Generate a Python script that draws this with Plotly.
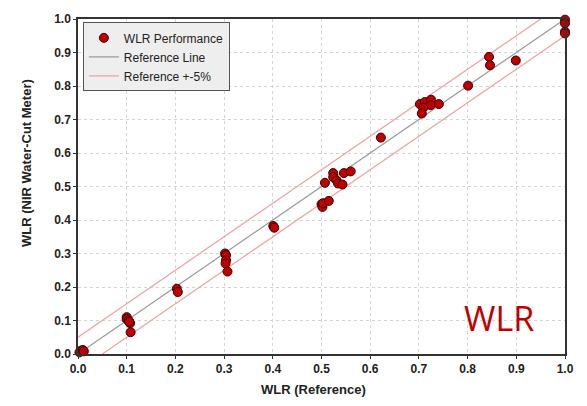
import plotly.graph_objects as go

# WLR data
wlr_ref = [0.003, 0.006, 0.010, 0.012,
           0.100, 0.100, 0.104, 0.107, 0.105, 0.108,
           0.203, 0.205,
           0.302, 0.304, 0.304, 0.303, 0.307,
           0.401, 0.403,
           0.500, 0.502, 0.503, 0.515, 0.507, 0.524, 0.524, 0.531, 0.534, 0.543, 0.546, 0.560,
           0.622,
           0.702, 0.712, 0.725, 0.724, 0.709, 0.706, 0.741,
           0.801, 0.844, 0.846, 0.899,
           1.000, 1.000, 1.000, 1.000]
wlr_nir = [0.005, 0.010, 0.012, 0.008,
           0.110, 0.104, 0.100, 0.092, 0.097, 0.065,
           0.195, 0.185,
           0.300, 0.295, 0.280, 0.270, 0.246,
           0.382, 0.377,
           0.447, 0.439, 0.450, 0.457, 0.511, 0.540, 0.528, 0.518, 0.509, 0.506, 0.540, 0.545,
           0.646,
           0.746, 0.752, 0.759, 0.743, 0.735, 0.718, 0.746,
           0.801, 0.887, 0.862, 0.876,
           0.998, 0.987, 0.962, 0.957]

line_x = [0.0, 1.0]
ref_y = [0.0, 1.0]
upper_x = [0.0, 0.95]
upper_y = [0.05, 1.0]
lower_x = [0.05, 1.0]
lower_y = [0.0, 0.95]

tick_vals = [0.0, 0.1, 0.2, 0.3, 0.4, 0.5, 0.6, 0.7, 0.8, 0.9, 1.0]
tick_text = ["0.0", "0.1", "0.2", "0.3", "0.4", "0.5", "0.6", "0.7", "0.8", "0.9", "1.0"]

fig = go.Figure()
fig.add_trace(go.Scatter(x=line_x, y=ref_y, mode="lines", name="Reference Line",
                         line=dict(color="#9a9a9a", width=1.2), legendrank=2))
fig.add_trace(go.Scatter(x=upper_x, y=upper_y, mode="lines", name="Reference +-5%",
                         line=dict(color="#f0a0a0", width=1.2), legendgroup="pm", legendrank=3))
fig.add_trace(go.Scatter(x=lower_x, y=lower_y, mode="lines", name="Reference +-5%",
                         line=dict(color="#f0a0a0", width=1.2), legendgroup="pm", showlegend=False))
fig.add_trace(go.Scatter(x=wlr_ref, y=wlr_nir, mode="markers", name="WLR Performance",
                         cliponaxis=False, legendrank=1,
                         marker=dict(color="#c00000", size=9, line=dict(color="#3a0000", width=1))))

axis_common = dict(range=[0, 1], tickvals=tick_vals, ticktext=tick_text,
                   showgrid=True, gridcolor="#d4d4d4", griddash="dot", gridwidth=1,
                   showline=True, linecolor="#333333", linewidth=1.5, mirror=True,
                   ticks="outside", ticklen=3, tickcolor="#333333",
                   tickfont=dict(family="Liberation Sans, Arial", size=12, color="#222222", weight="bold"),
                   zeroline=False, fixedrange=True)

fig.update_layout(
    width=587, height=406,
    margin=dict(l=78, r=22, t=12, b=52),
    paper_bgcolor="white", plot_bgcolor="white",
    xaxis=axis_common, yaxis=axis_common,
    showlegend=True,
    legend=dict(x=0.01, y=0.99, xanchor="left", yanchor="top",
                bgcolor="#eeeeee", bordercolor="#555555", borderwidth=1,
                font=dict(family="Liberation Sans, Arial", size=12, color="#222222"),
                tracegroupgap=0, itemwidth=30),
    annotations=[
        dict(text="<b>WLR (Reference)</b>", xref="paper", yref="paper", x=(313.5 - 78) / 487,
             y=(406 - 390 - 52) / 342, xanchor="center", yanchor="middle", showarrow=False,
             font=dict(family="Liberation Sans, Arial", size=13, color="#222222")),
        dict(text="<b>WLR (NIR Water-Cut Meter)</b>", xref="paper", yref="paper", x=(27 - 78) / 487,
             y=(354 - 159) / 342, xanchor="center", yanchor="middle", showarrow=False, textangle=-90,
             font=dict(family="Liberation Sans, Arial", size=13, color="#222222")),
        dict(text="WLR", xref="paper", yref="paper", x=(499 - 78) / 487, y=(354 - 317) / 342,
             xanchor="center", yanchor="middle", showarrow=False,
             font=dict(family="Open Sans, Liberation Sans", size=34, color="#c00000")),
    ],
)

fig.write_html("out.html")
